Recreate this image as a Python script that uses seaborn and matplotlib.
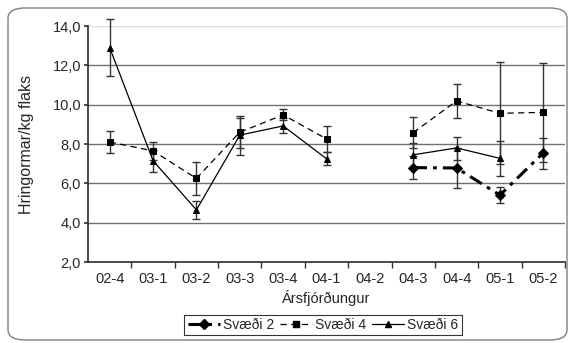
import numpy as np
import pandas as pd
import matplotlib
matplotlib.use("Agg")
import matplotlib.pyplot as plt
from matplotlib.patches import FancyBboxPatch
from matplotlib.lines import Line2D
import seaborn as sns

categories = ["02-4", "03-1", "03-2", "03-3", "03-4", "04-1", "04-2", "04-3", "04-4", "05-1", "05-2"]
nan = np.nan
s2_val = [nan, nan, nan, nan, nan, nan, nan, 6.80, 6.78, 5.40, 7.55]
s2_lo  = [nan, nan, nan, nan, nan, nan, nan, 6.20, 5.75, 5.00, 6.75]
s2_hi  = [nan, nan, nan, nan, nan, nan, nan, 7.40, 7.80, 5.80, 8.30]
s4_val = [8.10, 7.65, 6.25, 8.60, 9.48, 8.26, nan, 8.58, 10.19, 9.56, 9.61]
s4_lo  = [7.55, 7.20, 5.40, 7.80, 9.20, 7.60, nan, 7.80, 9.30, 7.00, 7.10]
s4_hi  = [8.65, 8.10, 7.10, 9.40, 9.76, 8.92, nan, 9.35, 11.05, 12.15, 12.10]
s6_val = [12.90, 7.15, 4.65, 8.45, 8.92, 7.25, nan, 7.45, 7.80, 7.27, nan]
s6_lo  = [11.47, 6.60, 4.20, 7.45, 8.56, 6.95, nan, 6.80, 7.20, 6.35, nan]
s6_hi  = [14.35, 7.70, 5.10, 9.30, 9.30, 7.60, nan, 8.07, 8.37, 8.15, nan]
series_names = ["Svæði 2", "Svæði 4", "Svæði 6"]
y_ticks = [2.0, 4.0, 6.0, 8.0, 10.0, 12.0, 14.0]

rows = []
for name, v, lo, hi in zip(series_names, [s2_val, s4_val, s6_val], [s2_lo, s4_lo, s6_lo], [s2_hi, s4_hi, s6_hi]):
    seg = 0
    for i, c in enumerate(categories):
        if np.isnan(v[i]):
            seg += 1
            continue
        rows.append(dict(series=name, pos=i, cat=c, val=v[i], lo=lo[i], hi=hi[i], seg=seg))
df = pd.DataFrame(rows)

sns.set_theme(style="white")
plt.rcParams["font.family"] = ["Liberation Sans", "DejaVu Sans"]

fig = plt.figure(figsize=(5.70, 3.43), dpi=100)
W, H = 570, 343
ax = fig.add_axes([88 / W, 1 - 262 / H, (565 - 88) / W, (262 - 26) / H])

# outer rounded frame
frame = FancyBboxPatch((8 / W, 3 / H), (567 - 8) / W, (335 - 3) / H,
                       boxstyle="round,pad=0,rounding_size=0.03",
                       transform=fig.transFigure, fill=False, edgecolor="#808080", lw=1.0)
fig.patches.append(frame)

styles = {
    "Svæði 2": dict(marker="D", ms=5, lw=2.2, dashes=(4.5, 2, 1.2, 2)),
    "Svæði 4": dict(marker="s", ms=4, lw=0.9, dashes=(5, 3.5)),
    "Svæði 6": dict(marker="^", ms=5, lw=0.9, dashes=None),
}

for name in series_names:
    sub = df[df.series == name]
    st = styles[name]
    eb = ax.errorbar(sub.pos, sub.val, yerr=[sub.val - sub.lo, sub.hi - sub.val], fmt="none",
                     ecolor="#333333", elinewidth=1.0, capsize=3, capthick=1.0, zorder=3)
    for art in eb.lines[1] + eb.lines[2]:
        art.set_clip_on(False)
    for seg, g in sub.groupby("seg"):
        sns.lineplot(data=g, x="pos", y="val", ax=ax, color="black", marker=st["marker"],
                     markersize=st["ms"], markeredgecolor="black", linewidth=st["lw"],
                     estimator=None, sort=False, legend=False, zorder=4)
        line = ax.lines[-1]
        if st["dashes"] is not None:
            line.set_dashes(st["dashes"])

ax.set_xlim(-0.5, len(categories) - 0.5)
ax.set_ylim(2, 14)
ax.set_yticks(y_ticks)
ax.set_yticklabels([f"{t:.1f}".replace(".", ",") for t in y_ticks], fontsize=10.5)
ax.set_xticks(range(len(categories)))
ax.set_xticklabels(categories, fontsize=10.5)
ax.set_xticks(np.arange(0.5, len(categories), 1), minor=True)
ax.tick_params(axis="x", which="major", length=0, pad=7)
ax.tick_params(axis="x", which="minor", length=4, direction="out", color="#333333", bottom=True)
ax.tick_params(axis="y", length=3, direction="out", color="#333333", left=True, pad=2)

for t in [4, 6, 8, 10, 12]:
    ax.axhline(t, color="#707070", lw=1.0, zorder=1)
for s in ["top", "right"]:
    ax.spines[s].set_visible(False)
ax.axhline(14, color="#dddddd", lw=1.0, zorder=1)
ax.spines["left"].set_color("#333333")
ax.spines["bottom"].set_color("#333333")
ax.set_xlabel("Ársfjórðungur", fontsize=10.5)
ax.xaxis.set_label_coords(0.5, -(298 - 262) / (262 - 26), transform=ax.transAxes)
ax.xaxis.label.set_va("center")
ax.set_ylabel("Hringormar/kg flaks", fontsize=11.5)
ax.yaxis.set_label_coords(-(88 - 27) / (565 - 88), 0.5)
ax.yaxis.label.set_va("center")

handles = [
    Line2D([], [], color="black", marker="D", ms=5, lw=2.2, dashes=(4.5, 2, 1.2, 2)),
    Line2D([], [], color="black", marker="s", ms=4, lw=0.9, dashes=(5, 3.5)),
    Line2D([], [], color="black", marker="^", ms=5, lw=0.9),
]
leg = fig.legend(handles, series_names, loc="center", bbox_to_anchor=(323 / W, 1 - 325 / H),
                 ncol=3, fontsize=10, frameon=True, fancybox=False, edgecolor="black",
                 handlelength=2.3, columnspacing=0.4, handletextpad=0.25, borderpad=0.25,
                 borderaxespad=0)
leg.get_frame().set_linewidth(0.8)

fig.savefig("out.png", dpi=100)
